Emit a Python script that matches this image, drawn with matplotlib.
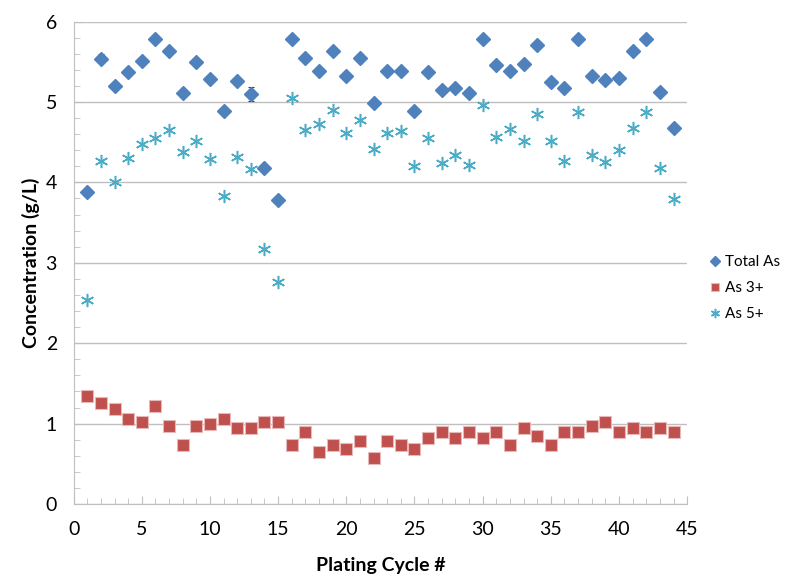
import matplotlib
matplotlib.use("Agg")
import matplotlib.pyplot as plt
from matplotlib.ticker import MultipleLocator

cycle = list(range(1, 45))
total_as = [3.88, 5.54, 5.20, 5.37, 5.51, 5.78, 5.63, 5.11, 5.50, 5.29,
            4.89, 5.26, 5.10, 4.18, 3.78, 5.78, 5.55, 5.39, 5.63, 5.32,
            5.55, 4.99, 5.39, 5.38, 4.89, 5.37, 5.15, 5.17, 5.11, 5.78,
            5.46, 5.39, 5.47, 5.71, 5.25, 5.17, 5.78, 5.32, 5.27, 5.30,
            5.63, 5.78, 5.12, 4.68]
total_err = [0, 0.06, 0, 0, 0, 0, 0, 0, 0, 0,
             0, 0.05, 0.09, 0, 0, 0, 0, 0, 0, 0,
             0, 0, 0, 0, 0, 0, 0, 0, 0, 0,
             0, 0, 0, 0, 0, 0, 0, 0, 0, 0,
             0, 0, 0, 0]
as3 = [1.34, 1.26, 1.18, 1.06, 1.02, 1.22, 0.97, 0.73, 0.97, 1.00,
       1.06, 0.94, 0.94, 1.02, 1.02, 0.73, 0.90, 0.65, 0.73, 0.69,
       0.78, 0.57, 0.78, 0.73, 0.69, 0.82, 0.90, 0.82, 0.90, 0.82,
       0.90, 0.73, 0.94, 0.85, 0.73, 0.90, 0.90, 0.97, 1.02, 0.90,
       0.94, 0.90, 0.94, 0.90]
as5 = [2.54, 4.27, 4.01, 4.30, 4.48, 4.55, 4.65, 4.38, 4.51, 4.29,
       3.83, 4.32, 4.17, 3.17, 2.76, 5.05, 4.65, 4.73, 4.90, 4.62,
       4.78, 4.42, 4.61, 4.64, 4.20, 4.55, 4.24, 4.34, 4.22, 4.96,
       4.57, 4.66, 4.52, 4.85, 4.52, 4.27, 4.87, 4.34, 4.25, 4.40,
       4.68, 4.87, 4.18, 3.79]

plt.rcParams['font.family'] = ['Lato', 'DejaVu Sans']
fig = plt.figure(figsize=(8, 5.82), dpi=100)
ax = fig.add_axes([0.092, 0.134, 0.767, 0.829])

grey = "#BFBFBF"
ax.errorbar(cycle, total_as, yerr=total_err, fmt="none", ecolor="#404040",
            elinewidth=0.8, capsize=2.5, capthick=0.8, zorder=2)
ax.plot(cycle, total_as, "D", color="#4F81BD", ms=7, label="Total As", zorder=3)
ax.plot(cycle, as3, "s", color="#C0504D", mec="#E6B9B8", mew=0.8, ms=8.5,
        label="As 3+", zorder=3)
ax.plot(cycle, as5, marker=(6, 2, 0), ls="none", color="#4BACC6", ms=9.5, mew=1.1,
        label="As 5+", zorder=3)

ax.set_xlim(0, 45)
ax.set_ylim(0, 6)
ax.xaxis.set_major_locator(MultipleLocator(5))
ax.xaxis.set_minor_locator(MultipleLocator(1))
ax.yaxis.set_major_locator(MultipleLocator(1))
ax.yaxis.set_minor_locator(MultipleLocator(0.2))
ax.grid(axis="y", which="major", color=grey, lw=1)
ax.set_axisbelow(True)
for s in ["top", "right"]:
    ax.spines[s].set_visible(False)
for s in ["left", "bottom"]:
    ax.spines[s].set_color(grey)
ax.tick_params(which="both", direction="in", color=grey, labelsize=14,
               labelcolor="#000000")
ax.tick_params(which="major", length=6, pad=12)
ax.tick_params(which="minor", length=4)
ax.set_xlabel("Plating Cycle #", fontsize=14, fontweight="bold", labelpad=14)
ax.set_ylabel("Concentration (g/L)", fontsize=14, fontweight="bold", labelpad=4)

handles, labels = ax.get_legend_handles_labels()
fig.legend(handles, labels, loc="center left", bbox_to_anchor=(0.88, 0.505),
           frameon=False, fontsize=11, handletextpad=0.2, labelspacing=0.8,
           handlelength=1.0, markerscale=0.7, borderaxespad=0, borderpad=0.2)

fig.savefig("out.png", dpi=100)
